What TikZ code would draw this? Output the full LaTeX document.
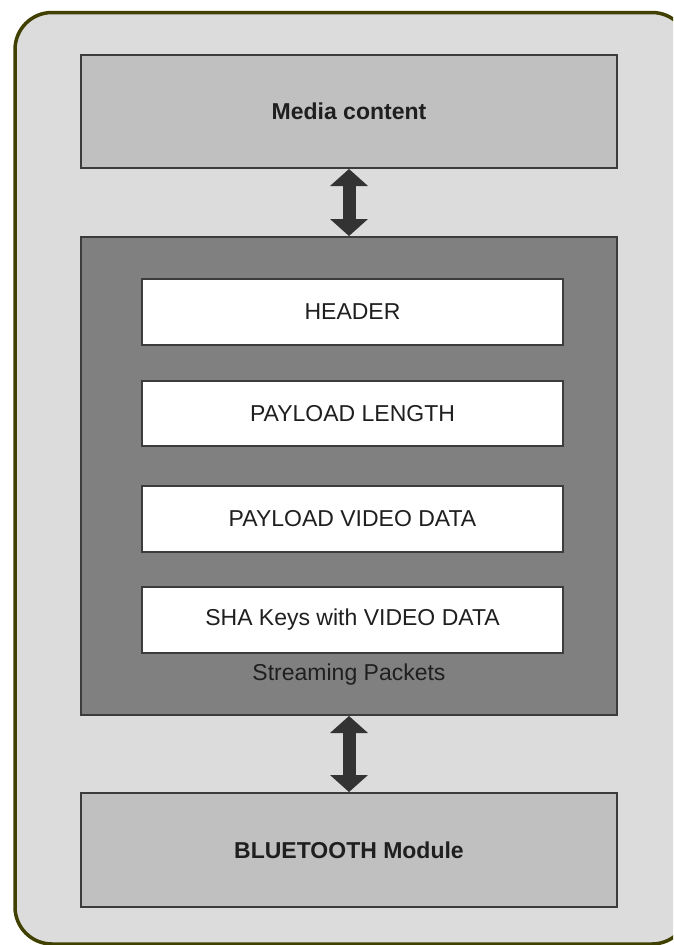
\documentclass[tikz,border=0pt]{standalone}
\usepackage{fontspec}
\setmainfont{Liberation Sans}
\usetikzlibrary{arrows.meta}
\definecolor{framegreen}{RGB}{64,64,0}
\definecolor{panelgray}{RGB}{220,220,220}
\definecolor{boxgray}{RGB}{192,192,192}
\definecolor{streamgray}{RGB}{128,128,128}
\definecolor{edgegray}{RGB}{60,60,60}
\definecolor{arrowgray}{RGB}{51,51,51}

\begin{document}
\begin{tikzpicture}[x=1pt, y=-1pt,
    every node/.style={font=\fontsize{23}{27}\selectfont, text=black!88},
    block/.style={draw=edgegray, line width=2pt, fill=boxgray, minimum width=536pt, minimum height=113pt, font=\fontsize{23}{27}\selectfont\bfseries},
    field/.style={draw=edgegray, line width=2pt, fill=white, minimum width=421pt, minimum height=66pt},
    link/.style={draw=arrowgray, line width=13pt, {Triangle[width=38pt,length=17pt,line width=0pt]}-{Triangle[width=38pt,length=17pt,line width=0pt]}}]
    \useasboundingbox (0,0) rectangle (673,945);
    \clip (0,0) rectangle (673,945);

    % Outer panel
    \draw[fill=panelgray, draw=framegreen, line width=3.5pt, rounded corners=37pt] (15,12.5) rectangle (689,944);

    % Media content
    \node[block] (media) at (349,111.5) {Media content};

    % Streaming packets
    \node[block, fill=streamgray, minimum height=478pt] (stream) at (349,476) {};
    \node[field] (header) at (352.5,312) {HEADER};
    \node[field, minimum height=65pt] (length) at (352.5,413.5) {PAYLOAD LENGTH};
    \node[field] (video) at (352.5,519) {PAYLOAD VIDEO DATA};
    \node[field] (sha) at (352.5,620) {SHA Keys with VIDEO DATA};
    \node (packets) at (349,675) {Streaming Packets};

    % Bluetooth module
    \node[block, minimum height=114pt] (bt) at (349,850) {BLUETOOTH Module};

    % Links
    \draw[link] (media.south) -- (stream.north);
    \draw[link] (stream.south) -- (bt.north);
\end{tikzpicture}
\end{document}
